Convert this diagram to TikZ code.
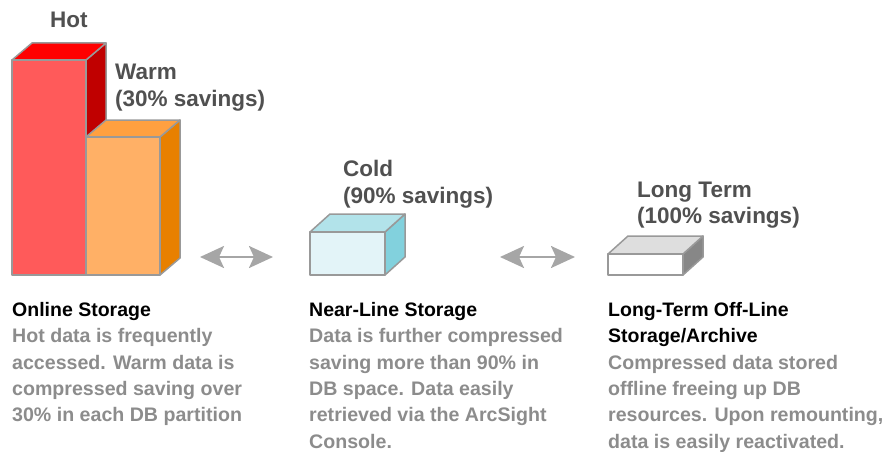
\documentclass[tikz,border=0pt]{standalone}
\usepackage{fontspec}
\setmainfont{Liberation Sans}
\usetikzlibrary{arrows.meta}
\definecolor{edgegray}{HTML}{999999}
\definecolor{arrowgray}{HTML}{A6A6A6}
\definecolor{labelgray}{HTML}{505050}
\definecolor{descgray}{HTML}{8C8C8C}
\definecolor{hotfront}{HTML}{FF5A5A}
\definecolor{hottop}{HTML}{FF0000}
\definecolor{hotside}{HTML}{C00000}
\definecolor{warmfront}{HTML}{FFB066}
\definecolor{warmtop}{HTML}{FFA040}
\definecolor{warmside}{HTML}{E88000}
\definecolor{coldfront}{HTML}{E3F4F8}
\definecolor{coldtop}{HTML}{B2E3EA}
\definecolor{coldside}{HTML}{82D1DD}
\definecolor{longfront}{HTML}{FFFFFF}
\definecolor{longtop}{HTML}{DEDEDE}
\definecolor{longside}{HTML}{878787}
\newcommand\mycuboid[8]{%
  \filldraw[edge, fill=#8] (#3,#2) -- ++(20,-#5) -- (#3+20,#4-#5) -- (#3,#4) -- cycle;
  \filldraw[edge, fill=#7] (#1,#2) -- ++(20,-#5) -- (#3+20,#2-#5) -- (#3,#2) -- cycle;
  \filldraw[edge, fill=#6] (#1,#2) rectangle (#3,#4);
}
\begin{document}
\begin{tikzpicture}[x=1pt,y=-1pt,
  edge/.style={draw=edgegray, line width=1.5pt, line join=round},
  dblarrow/.style={draw=arrowgray, fill=arrowgray, line width=2.5pt,
    {Stealth[length=24pt,width=22pt,inset=5pt]}-{Stealth[length=24pt,width=22pt,inset=5pt]}},
  lbl/.style={anchor=base west, inner sep=0pt, text=labelgray, font=\fontsize{22.5}{26}\bfseries\selectfont},
  ttl/.style={anchor=base west, inner sep=0pt, text=black, font=\fontsize{19.5}{24}\bfseries\selectfont},
  dsc/.style={anchor=base west, inner sep=0pt, text=descgray, font=\fontsize{19.6}{24}\bfseries\selectfont}]
\useasboundingbox (0,0) rectangle (886,452);
% bars and boxes
\mycuboid{12}{60}{86}{275}{17}{hotfront}{hottop}{hotside}
\mycuboid{86}{137}{160}{275}{17}{warmfront}{warmtop}{warmside}
\mycuboid{310}{232}{385}{275}{18}{coldfront}{coldtop}{coldside}
\mycuboid{608}{254}{683}{275}{18}{longfront}{longtop}{longside}
% arrows
\coordinate (a1l) at (200,257);
\coordinate (a1r) at (273,257);
\coordinate (a2l) at (500,257);
\coordinate (a2r) at (575,257);
\draw[dblarrow] (a1l) -- (a1r);
\draw[dblarrow] (a2l) -- (a2r);
% labels
\node[lbl] (hot) at (50,27.3) {Hot};
\node[lbl] (warm1) at (115,79) {Warm};
\node[lbl] (warm2) at (115,106) {(30\% savings)};
\node[lbl] (cold1) at (343,176.5) {Cold};
\node[lbl] (cold2) at (343,203) {(90\% savings)};
\node[lbl] (long1) at (637,197.3) {Long Term};
\node[lbl] (long2) at (637,223.3) {(100\% savings)};
% online
\node[ttl] (on0) at (12,316.5) {Online Storage};
\node[dsc] (on1) at (12,342.8) {Hot data is frequently};
\node[dsc] (on2) at (12,369.1) {accessed. Warm data is};
\node[dsc] (on3) at (12,395.4) {compressed saving over};
\node[dsc] (on4) at (12,421.7) {30\% in each DB partition};
% near-line
\node[ttl] (nl0) at (309,316.5) {Near-Line Storage};
\node[dsc] (nl1) at (309,342.8) {Data is further compressed};
\node[dsc] (nl2) at (309,369.1) {saving more than 90\% in};
\node[dsc] (nl3) at (309,395.4) {DB space. Data easily};
\node[dsc] (nl4) at (309,421.7) {retrieved via the ArcSight};
\node[dsc] (nl5) at (309,448) {Console.};
% long-term
\node[ttl] (lt0) at (608,316.5) {Long-Term Off-Line};
\node[ttl] (lt1) at (608,342.8) {Storage/Archive};
\node[dsc] (lt2) at (608,369.1) {Compressed data stored};
\node[dsc] (lt3) at (608,395.4) {offline freeing up DB};
\node[dsc] (lt4) at (608,421.7) {resources. Upon remounting,};
\node[dsc] (lt5) at (608,448) {data is easily reactivated.};
\end{tikzpicture}
\end{document}
